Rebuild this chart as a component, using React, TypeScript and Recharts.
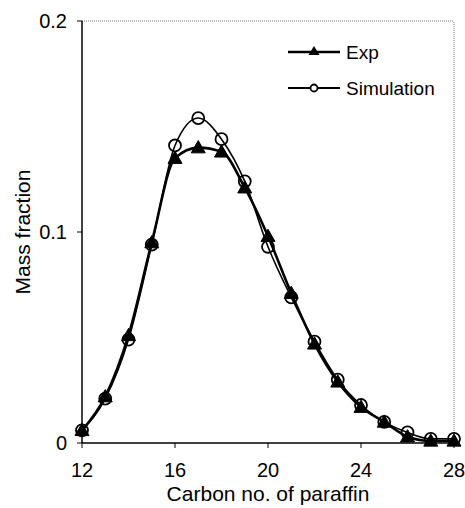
import React from "react";
import {
  LineChart,
  Line,
  XAxis,
  YAxis,
  ReferenceLine,
  Label,
} from "recharts";

document.body.style.margin = "0";

const carbonNumbers = [12, 13, 14, 15, 16, 17, 18, 19, 20, 21, 22, 23, 24, 25, 26, 27, 28];
const expValues = [0.006, 0.022, 0.051, 0.095, 0.135, 0.14, 0.138, 0.121, 0.098, 0.071, 0.047, 0.029, 0.017, 0.01, 0.003, 0.001, 0.001];
const simValues = [0.006, 0.021, 0.049, 0.094, 0.141, 0.154, 0.144, 0.124, 0.093, 0.069, 0.048, 0.03, 0.018, 0.01, 0.005, 0.002, 0.002];
const xTicks = [12, 16, 20, 24, 28];
const yTicks = [0, 0.1, 0.2];

const data = carbonNumbers.map((c, i) => ({
  carbon: c,
  exp: expValues[i],
  sim: simValues[i],
}));

const FONT = "'Liberation Sans', Arial, sans-serif";
const tickStyle = { fontSize: 20, fontFamily: FONT, fill: "#000" };
const titleStyle = { fontSize: 21, fontFamily: FONT, fill: "#000" };
const legendStyle = { fontSize: 19, fontFamily: FONT, fill: "#000" };

const TriangleDot = (props: any) => {
  const { cx, cy } = props;
  if (cx == null || cy == null) return null;
  const s = 7;
  return (
    <path
      d={`M${cx},${cy - s} L${cx + s},${cy + s * 0.75} L${cx - s},${cy + s * 0.75} Z`}
      fill="#000"
      stroke="#000"
      strokeWidth={1}
    />
  );
};

const CircleDot = (props: any) => {
  const { cx, cy } = props;
  if (cx == null || cy == null) return null;
  return <circle cx={cx} cy={cy} r={6} fill="#fff" fillOpacity={0} stroke="#000" strokeWidth={1.8} />;
};

const LegendBox = () => (
  <svg width={180} height={70}>
    <line x1={0} y1={10} x2={52} y2={10} stroke="#000" strokeWidth={2.5} />
    <path d="M26,4 L31.5,13 L20.5,13 Z" fill="#000" />
    <text x={58} y={17} {...legendStyle}>Exp</text>
    <line x1={0} y1={46} x2={52} y2={46} stroke="#000" strokeWidth={1.8} />
    <circle cx={26} cy={46} r={3.5} fill="#fff" stroke="#000" strokeWidth={1.8} />
    <text x={58} y={53} {...legendStyle}>Simulation</text>
  </svg>
);

export default function App() {
  return (
    <div style={{ width: 465, height: 508, background: "#fff", position: "relative" }}>
      <LineChart
        width={465}
        height={508}
        data={data}
        margin={{ top: 21, right: 11, bottom: 0, left: 0 }}
      >
        <XAxis
          dataKey="carbon"
          type="number"
          domain={[12, 28]}
          ticks={xTicks}
          interval={0}
          height={65}
          axisLine={{ stroke: "#000", strokeWidth: 1.5 }}
          tickLine={{ stroke: "#000" }}
          tickSize={5}
          tickMargin={15}
          tick={tickStyle}
        >
          <Label value="Carbon no. of paraffin" position="insideBottom" offset={7} style={titleStyle} />
        </XAxis>
        <YAxis
          type="number"
          domain={[0, 0.2]}
          ticks={yTicks}
          interval={0}
          width={82}
          axisLine={{ stroke: "#000", strokeWidth: 1.5 }}
          tickLine={{ stroke: "#000" }}
          tickSize={5}
          tickMargin={10}
          tickFormatter={(v: number) => (v === 0 ? "0" : String(v))}
          tick={tickStyle}
        >
          <Label
            value="Mass fraction"
            angle={-90}
            position="insideLeft"
            offset={23}
            style={{ ...titleStyle, textAnchor: "middle" }}
          />
        </YAxis>
        <ReferenceLine y={0.2} stroke="#777" strokeWidth={1} strokeDasharray="1 1" />
        <ReferenceLine x={28} stroke="#777" strokeWidth={1} strokeDasharray="1 1" />
        <Line
          dataKey="sim"
          type="monotone"
          stroke="#000"
          strokeWidth={1.6}
          dot={<CircleDot />}
          isAnimationActive={false}
        />
        <Line
          dataKey="exp"
          type="monotone"
          stroke="#000"
          strokeWidth={2.6}
          dot={<TriangleDot />}
          isAnimationActive={false}
        />
      </LineChart>
      <div style={{ position: "absolute", left: 288, top: 42 }}>
        <LegendBox />
      </div>
    </div>
  );
}
